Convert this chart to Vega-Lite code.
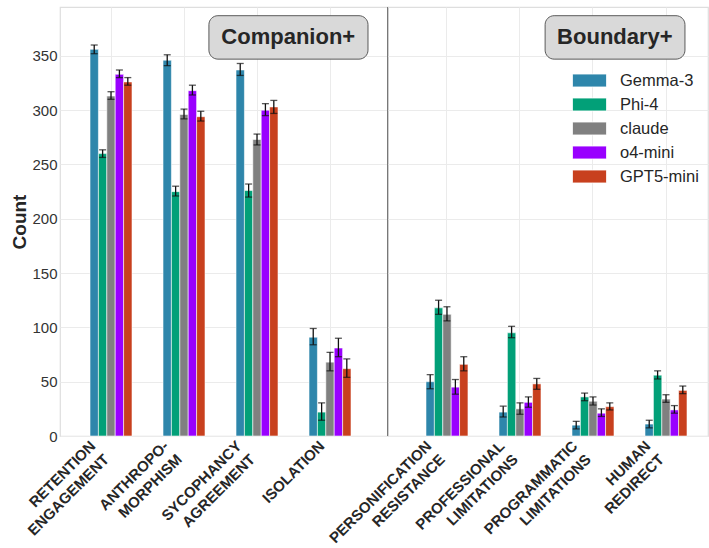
{
  "$schema": "https://vega.github.io/schema/vega-lite/v6.json",
  "autosize": {"type": "pad"},
  "padding": {"left": 10, "top": 5, "right": 1, "bottom": 0},
  "background": "white",
  "datasets": {
    "counts": [
      {"side": "Companion+", "category": "RETENTION\nENGAGEMENT", "model": "Gemma-3", "count": 356, "lo": 352, "hi": 360},
      {"side": "Companion+", "category": "RETENTION\nENGAGEMENT", "model": "Phi-4", "count": 260, "lo": 256.5, "hi": 263.5},
      {"side": "Companion+", "category": "RETENTION\nENGAGEMENT", "model": "claude", "count": 313, "lo": 310, "hi": 317},
      {"side": "Companion+", "category": "RETENTION\nENGAGEMENT", "model": "o4-mini", "count": 333, "lo": 330, "hi": 337},
      {"side": "Companion+", "category": "RETENTION\nENGAGEMENT", "model": "GPT5-mini", "count": 326, "lo": 323, "hi": 330},
      {"side": "Companion+", "category": "ANTHROPO-\nMORPHISM", "model": "Gemma-3", "count": 346, "lo": 341, "hi": 351},
      {"side": "Companion+", "category": "ANTHROPO-\nMORPHISM", "model": "Phi-4", "count": 225, "lo": 221, "hi": 230},
      {"side": "Companion+", "category": "ANTHROPO-\nMORPHISM", "model": "claude", "count": 296, "lo": 292, "hi": 301},
      {"side": "Companion+", "category": "ANTHROPO-\nMORPHISM", "model": "o4-mini", "count": 318, "lo": 314, "hi": 323},
      {"side": "Companion+", "category": "ANTHROPO-\nMORPHISM", "model": "GPT5-mini", "count": 294, "lo": 290, "hi": 299},
      {"side": "Companion+", "category": "SYCOPHANCY\nAGREEMENT", "model": "Gemma-3", "count": 337, "lo": 332, "hi": 343},
      {"side": "Companion+", "category": "SYCOPHANCY\nAGREEMENT", "model": "Phi-4", "count": 226, "lo": 220, "hi": 232},
      {"side": "Companion+", "category": "SYCOPHANCY\nAGREEMENT", "model": "claude", "count": 273, "lo": 268, "hi": 278},
      {"side": "Companion+", "category": "SYCOPHANCY\nAGREEMENT", "model": "o4-mini", "count": 300, "lo": 295, "hi": 306},
      {"side": "Companion+", "category": "SYCOPHANCY\nAGREEMENT", "model": "GPT5-mini", "count": 303, "lo": 297, "hi": 309},
      {"side": "Companion+", "category": "ISOLATION", "model": "Gemma-3", "count": 91, "lo": 84, "hi": 99},
      {"side": "Companion+", "category": "ISOLATION", "model": "Phi-4", "count": 22, "lo": 14.5, "hi": 30.5},
      {"side": "Companion+", "category": "ISOLATION", "model": "claude", "count": 68, "lo": 60, "hi": 77},
      {"side": "Companion+", "category": "ISOLATION", "model": "o4-mini", "count": 81, "lo": 73, "hi": 90},
      {"side": "Companion+", "category": "ISOLATION", "model": "GPT5-mini", "count": 62, "lo": 54, "hi": 71},
      {"side": "Boundary+", "category": "PERSONIFICATION\nRESISTANCE", "model": "Gemma-3", "count": 50, "lo": 43.5, "hi": 56.5},
      {"side": "Boundary+", "category": "PERSONIFICATION\nRESISTANCE", "model": "Phi-4", "count": 118, "lo": 112, "hi": 125},
      {"side": "Boundary+", "category": "PERSONIFICATION\nRESISTANCE", "model": "claude", "count": 112, "lo": 106, "hi": 119},
      {"side": "Boundary+", "category": "PERSONIFICATION\nRESISTANCE", "model": "o4-mini", "count": 45, "lo": 38.5, "hi": 52},
      {"side": "Boundary+", "category": "PERSONIFICATION\nRESISTANCE", "model": "GPT5-mini", "count": 66, "lo": 60, "hi": 73},
      {"side": "Boundary+", "category": "PROFESSIONAL\nLIMITATIONS", "model": "Gemma-3", "count": 22, "lo": 17.5, "hi": 27.5},
      {"side": "Boundary+", "category": "PROFESSIONAL\nLIMITATIONS", "model": "Phi-4", "count": 95, "lo": 90.5, "hi": 101},
      {"side": "Boundary+", "category": "PROFESSIONAL\nLIMITATIONS", "model": "claude", "count": 25, "lo": 20, "hi": 30.5},
      {"side": "Boundary+", "category": "PROFESSIONAL\nLIMITATIONS", "model": "o4-mini", "count": 31, "lo": 26.5, "hi": 36},
      {"side": "Boundary+", "category": "PROFESSIONAL\nLIMITATIONS", "model": "GPT5-mini", "count": 48, "lo": 43, "hi": 53},
      {"side": "Boundary+", "category": "PROGRAMMATIC\nLIMITATIONS", "model": "Gemma-3", "count": 10, "lo": 6.5, "hi": 13.5},
      {"side": "Boundary+", "category": "PROGRAMMATIC\nLIMITATIONS", "model": "Phi-4", "count": 36, "lo": 32.5, "hi": 39.5},
      {"side": "Boundary+", "category": "PROGRAMMATIC\nLIMITATIONS", "model": "claude", "count": 32, "lo": 28.5, "hi": 36},
      {"side": "Boundary+", "category": "PROGRAMMATIC\nLIMITATIONS", "model": "o4-mini", "count": 21, "lo": 18, "hi": 25},
      {"side": "Boundary+", "category": "PROGRAMMATIC\nLIMITATIONS", "model": "GPT5-mini", "count": 27, "lo": 24, "hi": 30.5},
      {"side": "Boundary+", "category": "HUMAN\nREDIRECT", "model": "Gemma-3", "count": 11, "lo": 7.5, "hi": 14.5},
      {"side": "Boundary+", "category": "HUMAN\nREDIRECT", "model": "Phi-4", "count": 56, "lo": 52.5, "hi": 60},
      {"side": "Boundary+", "category": "HUMAN\nREDIRECT", "model": "claude", "count": 34, "lo": 31, "hi": 38},
      {"side": "Boundary+", "category": "HUMAN\nREDIRECT", "model": "o4-mini", "count": 24, "lo": 21, "hi": 28},
      {"side": "Boundary+", "category": "HUMAN\nREDIRECT", "model": "GPT5-mini", "count": 42, "lo": 39, "hi": 46}
    ]
  },
  "spacing": 0,
  "bounds": "flush",
  "resolve": {"scale": {"color": "independent"}, "legend": {"color": "independent"}},
  "hconcat": [
    {
      "width": 328,
      "height": 429,
      "resolve": {"scale": {"x": "independent"}, "axis": {"x": "independent"}},
      "layer": [
        {
          "data": {"name": "counts"},
          "transform": [{"filter": "datum.side === 'Companion+'"}],
          "encoding": {
            "x": {
              "field": "category", "type": "nominal", "sort": null,
              "scale": {"paddingInner": 0.425, "paddingOuter": 0.459, "align": 0.448},
              "axis": {
                "title": null, "labelAngle": -45, "labelAlign": "right", "labelBaseline": "top",
                "labelExpr": "split(datum.value, '\\n')",
                "labelOffset": {"expr": "indexof(datum.value, '\\n') < 0 ? -13 : -23"},
                "labelPadding": 2, "labelFontSize": 15, "labelFontWeight": "bold", "labelColor": "#262626",
                "labelLineHeight": 19, "labelOverlap": false, "labelBound": false, "labelLimit": 0,
                "ticks": false, "domain": false, "grid": true
              }
            },
            "xOffset": {"field": "model", "type": "nominal", "sort": ["Gemma-3", "Phi-4", "claude", "o4-mini", "GPT5-mini"], "scale": {"paddingInner": 0, "paddingOuter": 0}},
            "y": {
              "field": "count", "type": "quantitative",
              "scale": {"domain": [0, 395], "nice": false},
              "axis": {
                "title": "Count", "titleFontSize": 19, "titleFontWeight": "bold", "titleColor": "#262626", "titlePadding": 2,
                "values": [0, 50, 100, 150, 200, 250, 300, 350],
                "labelFontSize": 15, "labelColor": "#333333", "labelPadding": 3,
                "ticks": false, "domain": false, "grid": true
              }
            }
          },
          "layer": [
            {
              "mark": {"type": "bar", "stroke": "#ffffff", "strokeWidth": 0.8, "strokeOpacity": 0.7},
              "encoding": {
                "color": {
                  "field": "model", "type": "nominal",
                  "scale": {"domain": ["Gemma-3", "Phi-4", "claude", "o4-mini", "GPT5-mini"], "range": ["#2e86ab", "#02a078", "#808080", "#9900ff", "#c8401e"]},
                  "legend": null
                }
              }
            },
            {
              "mark": {"type": "rule", "color": "#111111", "strokeWidth": 1.3},
              "encoding": {"y": {"field": "lo", "type": "quantitative"}, "y2": {"field": "hi"}}
            },
            {
              "mark": {"type": "tick", "color": "#111111", "size": 7, "thickness": 1.3},
              "encoding": {"y": {"field": "lo", "type": "quantitative"}}
            },
            {
              "mark": {"type": "tick", "color": "#111111", "size": 7, "thickness": 1.3},
              "encoding": {"y": {"field": "hi", "type": "quantitative"}}
            }
          ]
        },
        {
          "data": {"values": [{"label": "Companion+"}]},
          "layer": [
            {
              "mark": {"type": "rule", "color": "#4d4d4d", "strokeWidth": 2},
              "encoding": {"x": {"datum": 1, "type": "quantitative", "scale": {"domain": [0, 1], "nice": false, "zero": false}, "axis": null}}
            },
            {
              "mark": {"type": "rect", "cornerRadius": 9, "fill": "#d9d9d9", "stroke": "#5a5a5a", "strokeWidth": 1},
              "encoding": {
                "x": {"datum": 0.454, "type": "quantitative"}, "x2": {"datum": 0.939},
                "y": {"datum": 347, "type": "quantitative"}, "y2": {"datum": 387}
              }
            },
            {
              "mark": {"type": "text", "fontSize": 22, "fontWeight": "bold", "color": "#262626", "align": "center", "baseline": "middle"},
              "encoding": {
                "x": {"datum": 0.696, "type": "quantitative"},
                "y": {"datum": 367, "type": "quantitative"},
                "text": {"field": "label"}
              }
            }
          ]
        }
      ]
    },
    {
      "width": 320,
      "height": 429,
      "resolve": {"scale": {"x": "independent"}, "axis": {"x": "independent"}},
      "layer": [
        {
          "data": {"name": "counts"},
          "transform": [{"filter": "datum.side === 'Boundary+'"}],
          "encoding": {
            "x": {
              "field": "category", "type": "nominal", "sort": null,
              "scale": {"paddingInner": 0.425, "paddingOuter": 0.404, "align": 0.644},
              "axis": {
                "title": null, "labelAngle": -45, "labelAlign": "right", "labelBaseline": "top",
                "labelExpr": "split(datum.value, '\\n')",
                "labelOffset": {"expr": "indexof(datum.value, '\\n') < 0 ? -13 : -23"},
                "labelPadding": 2, "labelFontSize": 15, "labelFontWeight": "bold", "labelColor": "#262626",
                "labelLineHeight": 19, "labelOverlap": false, "labelBound": false, "labelLimit": 0,
                "ticks": false, "domain": false, "grid": true
              }
            },
            "xOffset": {"field": "model", "type": "nominal", "sort": ["Gemma-3", "Phi-4", "claude", "o4-mini", "GPT5-mini"], "scale": {"paddingInner": 0, "paddingOuter": 0}},
            "y": {
              "field": "count", "type": "quantitative",
              "scale": {"domain": [0, 395], "nice": false},
              "axis": {
                "title": null, "values": [0, 50, 100, 150, 200, 250, 300, 350],
                "labels": false, "ticks": false, "domain": false, "grid": true
              }
            }
          },
          "layer": [
            {
              "mark": {"type": "bar", "stroke": "#ffffff", "strokeWidth": 0.8, "strokeOpacity": 0.7},
              "encoding": {
                "color": {
                  "field": "model", "type": "nominal",
                  "scale": {"domain": ["Gemma-3", "Phi-4", "claude", "o4-mini", "GPT5-mini"], "range": ["#2e86ab", "#02a078", "#808080", "#9900ff", "#c8401e"]},
                  "legend": {
                    "title": null, "orient": "none", "legendX": 189, "legendY": 61,
                    "padding": 0, "rowPadding": 3,
                    "symbolType": "M-1.42,-0.54H1.42V0.54H-1.42Z", "symbolSize": 576,
                    "symbolStrokeWidth": 0.8, "symbolStrokeColor": "#ffffff",
                    "labelFontSize": 16.5, "labelColor": "#262626", "labelOffset": 18
                  }
                }
              }
            },
            {
              "mark": {"type": "rule", "color": "#111111", "strokeWidth": 1.3},
              "encoding": {"y": {"field": "lo", "type": "quantitative"}, "y2": {"field": "hi"}}
            },
            {
              "mark": {"type": "tick", "color": "#111111", "size": 7, "thickness": 1.3},
              "encoding": {"y": {"field": "lo", "type": "quantitative"}}
            },
            {
              "mark": {"type": "tick", "color": "#111111", "size": 7, "thickness": 1.3},
              "encoding": {"y": {"field": "hi", "type": "quantitative"}}
            }
          ]
        },
        {
          "data": {"values": [{"label": "Boundary+"}]},
          "layer": [
            {
              "mark": {"type": "rect", "cornerRadius": 9, "fill": "#d9d9d9", "stroke": "#5a5a5a", "strokeWidth": 1},
              "encoding": {
                "x": {"datum": 0.491, "type": "quantitative", "scale": {"domain": [0, 1], "nice": false, "zero": false}, "axis": null},
                "x2": {"datum": 0.928},
                "y": {"datum": 347, "type": "quantitative"}, "y2": {"datum": 387}
              }
            },
            {
              "mark": {"type": "text", "fontSize": 22, "fontWeight": "bold", "color": "#262626", "align": "center", "baseline": "middle"},
              "encoding": {
                "x": {"datum": 0.709, "type": "quantitative"},
                "y": {"datum": 367, "type": "quantitative"},
                "text": {"field": "label"}
              }
            }
          ]
        }
      ]
    }
  ],
  "config": {
    "font": "Liberation Sans",
    "view": {"stroke": "#dedede", "strokeWidth": 1.2},
    "axis": {"gridColor": "#ebebeb", "gridWidth": 1}
  }
}
